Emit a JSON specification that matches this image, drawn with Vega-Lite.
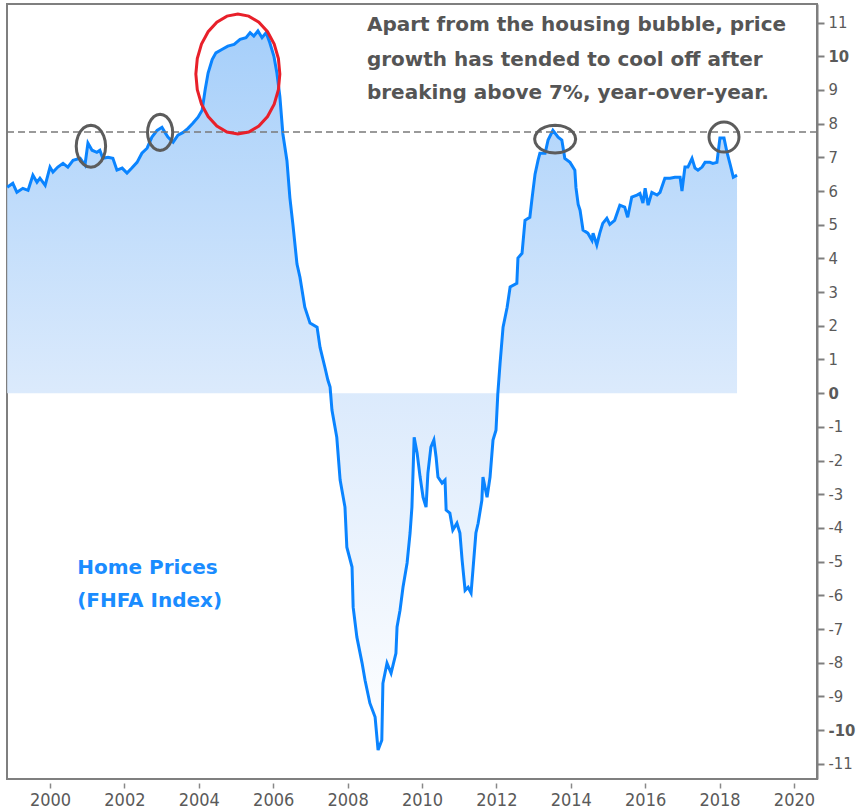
{
  "$schema": "https://vega.github.io/schema/vega-lite/v6.json",
  "width": 810,
  "height": 775,
  "autosize": "none",
  "padding": {"left": 7, "top": 4, "right": 49, "bottom": 33},
  "background": "#ffffff",
  "config": {
    "font": "DejaVu Sans",
    "view": {"stroke": "#7f7f7f", "strokeWidth": 2}
  },
  "datasets": {
    "series": [
      {"year": 1998.85, "value": 6.11}, {"year": 1999.0, "value": 6.23}, {"year": 1999.11, "value": 5.96}, {"year": 1999.27, "value": 6.08},
      {"year": 1999.41, "value": 6.02}, {"year": 1999.54, "value": 6.47}, {"year": 1999.65, "value": 6.26}, {"year": 1999.73, "value": 6.38},
      {"year": 1999.87, "value": 6.17}, {"year": 2000.0, "value": 6.71}, {"year": 2000.08, "value": 6.56}, {"year": 2000.21, "value": 6.71},
      {"year": 2000.35, "value": 6.82}, {"year": 2000.48, "value": 6.71}, {"year": 2000.62, "value": 6.91}, {"year": 2000.81, "value": 6.97},
      {"year": 2000.94, "value": 6.77}, {"year": 2001.02, "value": 7.42}, {"year": 2001.13, "value": 7.21}, {"year": 2001.26, "value": 7.15},
      {"year": 2001.34, "value": 7.21}, {"year": 2001.42, "value": 6.97}, {"year": 2001.56, "value": 7.0}, {"year": 2001.69, "value": 6.97},
      {"year": 2001.8, "value": 6.62}, {"year": 2001.94, "value": 6.68}, {"year": 2002.07, "value": 6.53}, {"year": 2002.2, "value": 6.68},
      {"year": 2002.34, "value": 6.85}, {"year": 2002.47, "value": 7.12}, {"year": 2002.61, "value": 7.27}, {"year": 2002.74, "value": 7.6},
      {"year": 2002.88, "value": 7.8}, {"year": 2003.01, "value": 7.89}, {"year": 2003.09, "value": 7.74}, {"year": 2003.17, "value": 7.6},
      {"year": 2003.31, "value": 7.45}, {"year": 2003.44, "value": 7.66}, {"year": 2003.58, "value": 7.74}, {"year": 2003.71, "value": 7.86},
      {"year": 2003.84, "value": 8.01}, {"year": 2003.98, "value": 8.19}, {"year": 2004.09, "value": 8.4}, {"year": 2004.17, "value": 9.0},
      {"year": 2004.25, "value": 9.5}, {"year": 2004.36, "value": 9.9}, {"year": 2004.46, "value": 10.1}, {"year": 2004.62, "value": 10.2},
      {"year": 2004.78, "value": 10.3}, {"year": 2004.95, "value": 10.35}, {"year": 2005.11, "value": 10.5}, {"year": 2005.27, "value": 10.55},
      {"year": 2005.38, "value": 10.7}, {"year": 2005.48, "value": 10.6}, {"year": 2005.59, "value": 10.75}, {"year": 2005.7, "value": 10.55},
      {"year": 2005.81, "value": 10.7}, {"year": 2005.91, "value": 10.4}, {"year": 2006.02, "value": 10.0}, {"year": 2006.1, "value": 9.5},
      {"year": 2006.18, "value": 8.8}, {"year": 2006.26, "value": 7.7}, {"year": 2006.37, "value": 6.9}, {"year": 2006.45, "value": 5.79},
      {"year": 2006.53, "value": 5.01}, {"year": 2006.64, "value": 3.83}, {"year": 2006.72, "value": 3.44}, {"year": 2006.85, "value": 2.55},
      {"year": 2006.99, "value": 2.08}, {"year": 2007.18, "value": 1.96}, {"year": 2007.26, "value": 1.36}, {"year": 2007.39, "value": 0.77},
      {"year": 2007.47, "value": 0.39}, {"year": 2007.53, "value": 0.18}, {"year": 2007.58, "value": -0.5}, {"year": 2007.71, "value": -1.31},
      {"year": 2007.8, "value": -2.58}, {"year": 2007.93, "value": -3.38}, {"year": 2007.98, "value": -4.57}, {"year": 2008.12, "value": -5.16},
      {"year": 2008.15, "value": -6.35}, {"year": 2008.25, "value": -7.24}, {"year": 2008.39, "value": -8.01}, {"year": 2008.47, "value": -8.52},
      {"year": 2008.6, "value": -9.2}, {"year": 2008.74, "value": -9.61}, {"year": 2008.82, "value": -10.59}, {"year": 2008.92, "value": -10.3},
      {"year": 2008.95, "value": -8.61}, {"year": 2009.06, "value": -8.01}, {"year": 2009.17, "value": -8.31}, {"year": 2009.3, "value": -7.72},
      {"year": 2009.33, "value": -6.94}, {"year": 2009.41, "value": -6.44}, {"year": 2009.49, "value": -5.76}, {"year": 2009.6, "value": -5.04},
      {"year": 2009.68, "value": -4.15}, {"year": 2009.73, "value": -3.38}, {"year": 2009.79, "value": -1.31}, {"year": 2009.87, "value": -1.78},
      {"year": 2009.95, "value": -2.49}, {"year": 2010.03, "value": -3.09}, {"year": 2010.11, "value": -3.38}, {"year": 2010.16, "value": -2.37},
      {"year": 2010.24, "value": -1.6}, {"year": 2010.32, "value": -1.39}, {"year": 2010.38, "value": -1.9}, {"year": 2010.43, "value": -2.49},
      {"year": 2010.54, "value": -2.67}, {"year": 2010.62, "value": -2.58}, {"year": 2010.65, "value": -3.47}, {"year": 2010.75, "value": -3.56},
      {"year": 2010.83, "value": -4.06}, {"year": 2010.94, "value": -3.86}, {"year": 2011.02, "value": -4.15}, {"year": 2011.08, "value": -4.96},
      {"year": 2011.16, "value": -5.85}, {"year": 2011.24, "value": -5.76}, {"year": 2011.32, "value": -5.93}, {"year": 2011.37, "value": -5.25},
      {"year": 2011.45, "value": -4.15}, {"year": 2011.51, "value": -3.86}, {"year": 2011.61, "value": -3.18}, {"year": 2011.64, "value": -2.49},
      {"year": 2011.75, "value": -3.09}, {"year": 2011.83, "value": -2.49}, {"year": 2011.91, "value": -1.39}, {"year": 2011.99, "value": -1.1},
      {"year": 2012.04, "value": 0.0}, {"year": 2012.1, "value": 0.89}, {"year": 2012.18, "value": 1.96}, {"year": 2012.29, "value": 2.55},
      {"year": 2012.37, "value": 3.15}, {"year": 2012.55, "value": 3.26}, {"year": 2012.58, "value": 4.01}, {"year": 2012.69, "value": 4.15},
      {"year": 2012.77, "value": 5.13}, {"year": 2012.9, "value": 5.22}, {"year": 2012.96, "value": 5.79}, {"year": 2013.04, "value": 6.5},
      {"year": 2013.12, "value": 6.91}, {"year": 2013.17, "value": 7.12}, {"year": 2013.31, "value": 7.12}, {"year": 2013.39, "value": 7.51},
      {"year": 2013.52, "value": 7.8}, {"year": 2013.66, "value": 7.6}, {"year": 2013.76, "value": 7.51}, {"year": 2013.84, "value": 6.97},
      {"year": 2013.98, "value": 6.85}, {"year": 2014.11, "value": 6.62}, {"year": 2014.14, "value": 6.1}, {"year": 2014.2, "value": 5.6},
      {"year": 2014.25, "value": 5.43}, {"year": 2014.33, "value": 4.84}, {"year": 2014.46, "value": 4.75}, {"year": 2014.57, "value": 4.54},
      {"year": 2014.6, "value": 4.75}, {"year": 2014.7, "value": 4.4}, {"year": 2014.78, "value": 4.75}, {"year": 2014.86, "value": 5.04},
      {"year": 2014.97, "value": 5.19}, {"year": 2015.05, "value": 5.01}, {"year": 2015.18, "value": 5.13}, {"year": 2015.32, "value": 5.58},
      {"year": 2015.45, "value": 5.52}, {"year": 2015.53, "value": 5.22}, {"year": 2015.64, "value": 5.82}, {"year": 2015.78, "value": 5.88},
      {"year": 2015.86, "value": 5.93}, {"year": 2015.94, "value": 5.64}, {"year": 2016.0, "value": 6.08}, {"year": 2016.08, "value": 5.58},
      {"year": 2016.18, "value": 5.96}, {"year": 2016.32, "value": 5.88}, {"year": 2016.4, "value": 5.96}, {"year": 2016.53, "value": 6.38},
      {"year": 2016.67, "value": 6.38}, {"year": 2016.8, "value": 6.41}, {"year": 2016.94, "value": 6.41}, {"year": 2016.99, "value": 6.0},
      {"year": 2017.07, "value": 6.71}, {"year": 2017.15, "value": 6.71}, {"year": 2017.26, "value": 6.97}, {"year": 2017.34, "value": 6.68},
      {"year": 2017.42, "value": 6.62}, {"year": 2017.53, "value": 6.71}, {"year": 2017.61, "value": 6.85}, {"year": 2017.74, "value": 6.85},
      {"year": 2017.82, "value": 6.82}, {"year": 2017.93, "value": 6.85}, {"year": 2018.01, "value": 7.57}, {"year": 2018.12, "value": 7.57},
      {"year": 2018.2, "value": 7.15}, {"year": 2018.29, "value": 6.77}, {"year": 2018.37, "value": 6.41}, {"year": 2018.47, "value": 6.47}
    ],
    "ellipses": [
      {"id": "a", "year": 2001.10, "value": 7.33},
      {"id": "b", "year": 2002.96, "value": 7.74},
      {"id": "c", "year": 2005.05, "value": 9.47},
      {"id": "d", "year": 2013.58, "value": 7.54},
      {"id": "e", "year": 2018.12, "value": 7.6}
    ],
    "notes": [
      {"year": 2008.52, "value": 10.92, "text": "Apart from the housing bubble, price"},
      {"year": 2008.52, "value": 9.88, "text": "growth has tended to cool off after"},
      {"year": 2008.52, "value": 8.9, "text": "breaking above 7%, year-over-year."}
    ],
    "labels": [
      {"year": 2000.73, "value": -5.19, "text": "Home Prices"},
      {"year": 2000.73, "value": -6.17, "text": "(FHFA Index)"}
    ]
  },
  "encoding": {
    "x": {
      "field": "year", "type": "quantitative",
      "scale": {"domain": [1998.844, 2020.62], "nice": false, "zero": false},
      "axis": {
        "title": null, "grid": false, "domain": false,
        "values": [2000, 2002, 2004, 2006, 2008, 2010, 2012, 2014, 2016, 2018, 2020],
        "format": "d", "offset": 4, "tickSize": 5, "tickColor": "#888888", "tickWidth": 1.5,
        "labelFont": "DejaVu Sans Condensed, DejaVu Sans", "labelFontSize": 18, "labelColor": "#5a5a5a", "labelPadding": 3
      }
    },
    "y": {
      "field": "value", "type": "quantitative",
      "scale": {"domain": [-11.45, 11.55], "nice": false, "zero": false},
      "axis": {
        "orient": "right", "title": null, "grid": false,
        "values": [-11, -10, -9, -8, -7, -6, -5, -4, -3, -2, -1, 0, 1, 2, 3, 4, 5, 6, 7, 8, 9, 10, 11],
        "labelExpr": "'' + datum.value",
        "domainColor": "#7f7f7f", "domainWidth": 2,
        "tickSize": 7, "tickColor": "#7f7f7f", "tickWidth": 2,
        "labelFont": "DejaVu Sans Condensed, DejaVu Sans", "labelFontSize": 16.5, "labelColor": "#5a5a5a", "labelPadding": 4,
        "labelFontWeight": {"condition": {"test": "datum.value == 0 || datum.value == 10 || datum.value == -10", "value": "bold"}, "value": "normal"}
      }
    }
  },
  "layer": [
    {
      "data": {"name": "series"},
      "mark": {
        "type": "area",
        "color": {
          "gradient": "linear", "x1": 0, "y1": 0, "x2": 0, "y2": 1,
          "stops": [
            {"offset": 0, "color": "#a6cffa"},
            {"offset": 0.5, "color": "#dbeafc"},
            {"offset": 1, "color": "#ffffff"}
          ]
        }
      },
      "encoding": {"y2": {"datum": 0}}
    },
    {
      "data": {"name": "series"},
      "mark": {"type": "line", "color": "#0a84ff", "strokeWidth": 3}
    },
    {
      "data": {"values": [{"level": 7.75}]},
      "mark": {"type": "rule", "color": "#7a7a7a", "strokeWidth": 1.5, "strokeDash": [7, 4]},
      "encoding": {"x": null, "y": {"field": "level", "type": "quantitative"}}
    },
    {
      "data": {"name": "ellipses"},
      "transform": [{"filter": "datum.id == 'a'"}],
      "mark": {"type": "point", "filled": false, "opacity": 1, "stroke": "#5c5c5c", "strokeWidth": 3, "size": 1764,
        "shape": "M0.7,0L0.676,0.259L0.606,0.5L0.495,0.707L0.35,0.866L0.181,0.966L0,1L-0.181,0.966L-0.35,0.866L-0.495,0.707L-0.606,0.5L-0.676,0.259L-0.7,0L-0.676,-0.259L-0.606,-0.5L-0.495,-0.707L-0.35,-0.866L-0.181,-0.966L0,-1L0.181,-0.966L0.35,-0.866L0.495,-0.707L0.606,-0.5L0.676,-0.259Z"}
    },
    {
      "data": {"name": "ellipses"},
      "transform": [{"filter": "datum.id == 'b'"}],
      "mark": {"type": "point", "filled": false, "opacity": 1, "stroke": "#5c5c5c", "strokeWidth": 3, "size": 1296,
        "shape": "M0.7,0L0.676,0.259L0.606,0.5L0.495,0.707L0.35,0.866L0.181,0.966L0,1L-0.181,0.966L-0.35,0.866L-0.495,0.707L-0.606,0.5L-0.676,0.259L-0.7,0L-0.676,-0.259L-0.606,-0.5L-0.495,-0.707L-0.35,-0.866L-0.181,-0.966L0,-1L0.181,-0.966L0.35,-0.866L0.495,-0.707L0.606,-0.5L0.676,-0.259Z"}
    },
    {
      "data": {"name": "ellipses"},
      "transform": [{"filter": "datum.id == 'c'"}],
      "mark": {"type": "point", "filled": false, "opacity": 1, "stroke": "#e8202a", "strokeWidth": 3, "size": 14400,
        "shape": "M0.7,0L0.676,0.259L0.606,0.5L0.495,0.707L0.35,0.866L0.181,0.966L0,1L-0.181,0.966L-0.35,0.866L-0.495,0.707L-0.606,0.5L-0.676,0.259L-0.7,0L-0.676,-0.259L-0.606,-0.5L-0.495,-0.707L-0.35,-0.866L-0.181,-0.966L0,-1L0.181,-0.966L0.35,-0.866L0.495,-0.707L0.606,-0.5L0.676,-0.259Z"}
    },
    {
      "data": {"name": "ellipses"},
      "transform": [{"filter": "datum.id == 'd'"}],
      "mark": {"type": "point", "filled": false, "opacity": 1, "stroke": "#5c5c5c", "strokeWidth": 3, "size": 1681,
        "shape": "M1,0L0.966,0.176L0.866,0.34L0.707,0.481L0.5,0.589L0.259,0.657L0,0.68L-0.259,0.657L-0.5,0.589L-0.707,0.481L-0.866,0.34L-0.966,0.176L-1,0L-0.966,-0.176L-0.866,-0.34L-0.707,-0.481L-0.5,-0.589L-0.259,-0.657L0,-0.68L0.259,-0.657L0.5,-0.589L0.707,-0.481L0.866,-0.34L0.966,-0.176Z"}
    },
    {
      "data": {"name": "ellipses"},
      "transform": [{"filter": "datum.id == 'e'"}],
      "mark": {"type": "point", "filled": false, "opacity": 1, "stroke": "#5c5c5c", "strokeWidth": 3, "size": 900, "shape": "circle"}
    },
    {
      "data": {"name": "notes"},
      "mark": {"type": "text", "align": "left", "baseline": "middle", "font": "DejaVu Sans", "fontSize": 20, "fontWeight": "bold", "color": "#555555"},
      "encoding": {"text": {"field": "text"}}
    },
    {
      "data": {"name": "labels"},
      "mark": {"type": "text", "align": "left", "baseline": "middle", "font": "DejaVu Sans", "fontSize": 20, "fontWeight": "bold", "color": "#1a8cff"},
      "encoding": {"text": {"field": "text"}}
    }
  ]
}
